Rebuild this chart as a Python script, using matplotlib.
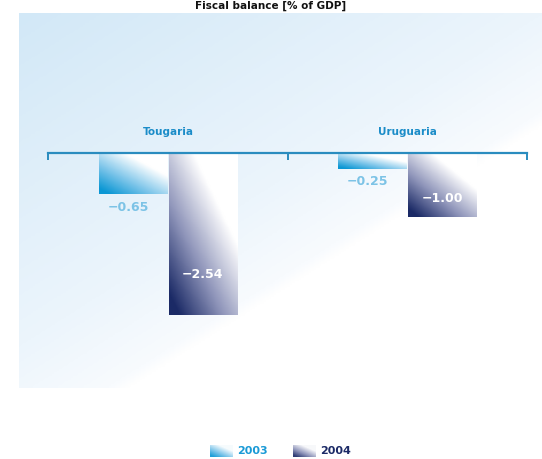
import numpy as np
import matplotlib.pyplot as plt
from matplotlib.colors import LinearSegmentedColormap

# data
countries = ['Tougaria', 'Uruguaria']
years = ['2003', '2004']
vals_first = [-0.65, -0.25]
vals_second = [-2.54, -1.00]
title = 'Fiscal balance [% of GDP]'

blue = '#0b97d4'
navy = '#1b2a66'
label_blue = '#1a8cc8'

fig = plt.figure(figsize=(5.42, 4.59), dpi=100)
ax = fig.add_axes([19/542, 71/459, 523/542, 375/459])
ax.set_xlim(-0.622, 1.563)
ax.set_ylim(-3.68, 2.19)

# background gradient: light blue top-left -> white bottom-right (row 0 = bottom)
nx, ny = 300, 220
u = np.linspace(0, 1, nx)[None, :]
down = 1 - np.linspace(0, 1, ny)[:, None]
g = np.clip((0.47 * u + 0.53 * down) / 0.63, 0, 1)
bg_cmap = LinearSegmentedColormap.from_list('bg', [(0, '#d2e8f7'), (0.75, '#ecf5fc'), (0.97, '#f8fbfe'), (1, '#ffffff')])
ax.imshow(g, cmap=bg_cmap, extent=[*ax.get_xlim(), *ax.get_ylim()], origin='lower',
          aspect='auto', zorder=0, vmin=0, vmax=1)

x = np.arange(len(countries))
w = 0.285
off = 0.146
bars1 = ax.bar(x - off, vals_first, w, color='none', zorder=2)
bars2 = ax.bar(x + off, vals_second, w, color='none', zorder=2)

cm1 = LinearSegmentedColormap.from_list('b1', [(0, blue), (0.45, '#7fc6ea'), (0.95, '#ffffff'), (1, '#ffffff')])
cm2 = LinearSegmentedColormap.from_list('b2', [(0, navy), (0.45, '#8f95ba'), (0.95, '#ffffff'), (1, '#ffffff')])


def diag(nr, nc):
    bu = np.linspace(0, 1, nc)[None, :]
    bv = np.linspace(0, 1, nr)[:, None]  # 0 at bottom
    return np.clip(0.7 * bu + 0.8 * bv - 0.1, 0, 1)


def fill_gradient(bars, cmap):
    for b in bars:
        x0, x1 = b.get_x(), b.get_x() + b.get_width()
        ya, yb = sorted([b.get_y(), b.get_y() + b.get_height()])
        im = ax.imshow(diag(100, 60), cmap=cmap, vmin=0, vmax=1, aspect='auto',
                       extent=[x0, x1, ya, yb], origin='lower', zorder=2)
        im.set_clip_path(b)


fill_gradient(bars1, cm1)
fill_gradient(bars2, cm2)

# value labels
for b, val in zip(bars1, vals_first):
    cx = b.get_x() + b.get_width() / 2
    ax.text(cx - 0.02, val - 0.2, f'\u2212{abs(val):.2f}', ha='center', va='center',
            color='#7cc3e6', fontsize=9, fontweight='bold', zorder=4)
for b, val in zip(bars2, vals_second):
    cx = b.get_x() + b.get_width() / 2
    ax.text(cx, val * 0.75 if val < -1.5 else val + 0.28, f'\u2212{abs(val):.2f}',
            ha='center', va='center', color='white', fontsize=9, fontweight='bold', zorder=4)

# axis line with ticks at category boundaries
for s in ['top', 'right', 'left']:
    ax.spines[s].set_visible(False)
ax.spines['bottom'].set_position(('data', 0))
ax.spines['bottom'].set_bounds(-0.5, 1.5)
ax.spines['bottom'].set_color('#2a8cbf')
ax.spines['bottom'].set_linewidth(1.6)
ax.spines['bottom'].set_zorder(3)
ax.set_xticks([-0.5, 0.5, 1.5])
ax.tick_params(axis='x', direction='out', length=5, width=1.4, color='#2a8cbf', labelbottom=False)
ax.set_yticks([])

for xi, name in zip(x, countries):
    ax.text(xi, 0.33, name, ha='center', va='center', color=label_blue,
            fontsize=7.5, fontweight='bold')

fig.text(0.5, 1 - 6/459, title, ha='center', va='center', fontsize=7.5, fontweight='bold', color='#111111')

# legend with gradient swatches
for left, cmap, lbl, col, tx in [(210, cm1, years[0], '#1a9ad6', 237), (293, cm2, years[1], navy, 320)]:
    sax = fig.add_axes([left/542, (459-457)/459, 23/542, 12/459])
    sax.imshow(diag(12, 23), cmap=cmap, vmin=-0.1, vmax=1.1, aspect='auto', origin='lower')
    sax.axis('off')
    fig.text(tx/542, 1 - 451/459, lbl, ha='left', va='center', color=col,
             fontsize=8, fontweight='bold')

fig.savefig('out.png', dpi=100)
